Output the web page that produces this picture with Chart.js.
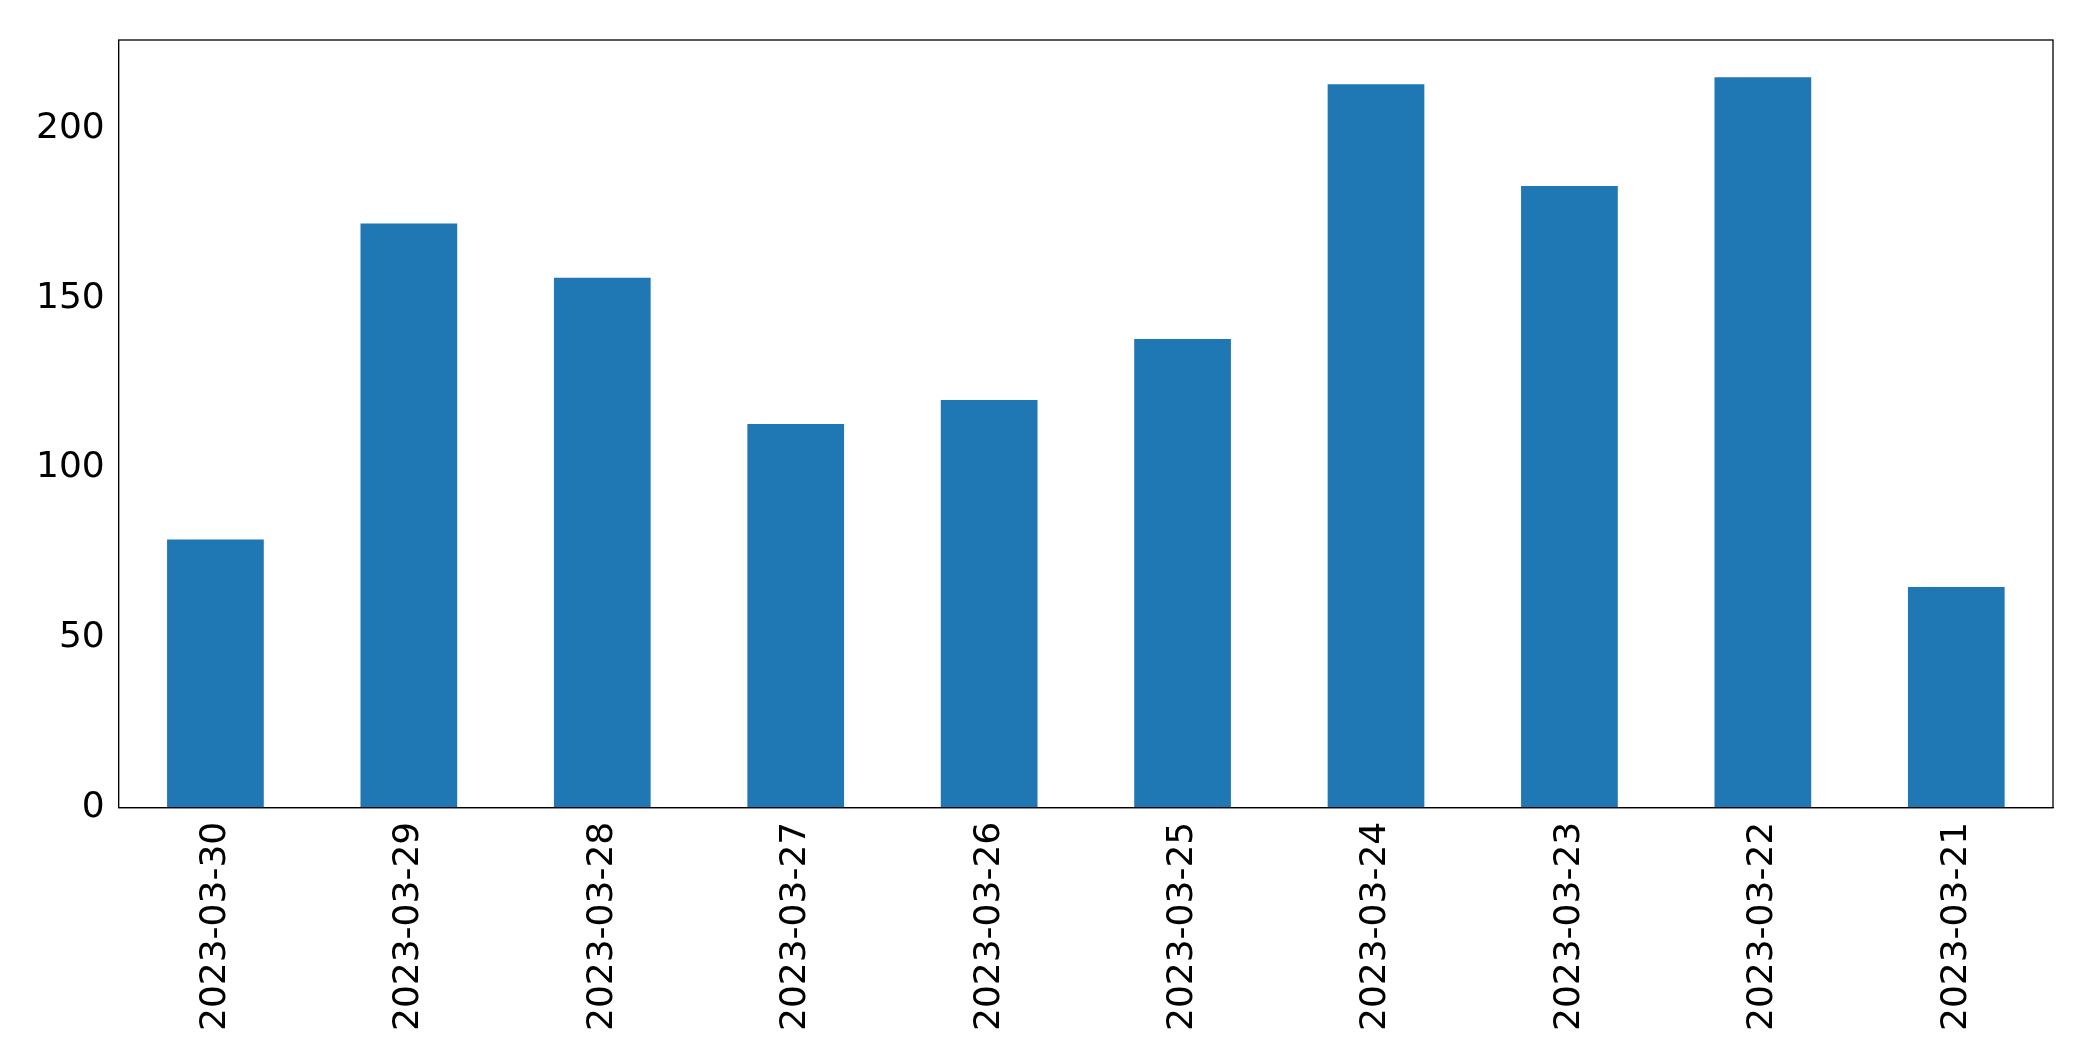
<!DOCTYPE html>
<html><head><meta charset="utf-8">
<script src="https://cdn.jsdelivr.net/npm/chart.js@4"></script>
<style>html,body{margin:0;padding:0;background:#fff}#w{width:2093px;height:1061px}</style>
</head><body><div id="w"><canvas id="c"></canvas></div>
<script>
const categories = ["2023-03-30","2023-03-29","2023-03-28","2023-03-27","2023-03-26","2023-03-25","2023-03-24","2023-03-23","2023-03-22","2023-03-21"];
const values = [79,172,156,113,120,138,213,183,215,65];
const yTicks = [0,50,100,150,200];
const frame = {id:'frame', afterDraw(ch){const a=ch.chartArea,x=ch.ctx;x.save();x.strokeStyle='#000';x.lineWidth=1.3;x.strokeRect(a.left,a.top,a.right-a.left,a.bottom-a.top);x.restore();}};
new Chart(document.getElementById('c'),{
 type:'bar',
 data:{labels:categories,datasets:[{data:values,backgroundColor:'#1f77b4',barPercentage:0.5,categoryPercentage:1}]},
 options:{responsive:true,maintainAspectRatio:false,animation:false,
  layout:{padding:{top:40,right:40,left:30,bottom:24}},
  plugins:{legend:{display:false},tooltip:{enabled:false}},
  scales:{
   x:{grid:{display:false,drawTicks:true,tickLength:8,tickColor:'#000'},border:{color:'#000'},
      ticks:{color:'#000',font:{family:'DejaVu Sans',size:36},maxRotation:90,minRotation:90,padding:6}},
   y:{min:0,max:226,grid:{display:false,tickLength:8,tickColor:'#000'},border:{color:'#000'},
      afterBuildTicks(ax){ax.ticks=yTicks.map(v=>({value:v}));},
      ticks:{color:'#000',font:{family:'DejaVu Sans',size:36},padding:6}}
  }},
 plugins:[frame]
});
</script></body></html>
